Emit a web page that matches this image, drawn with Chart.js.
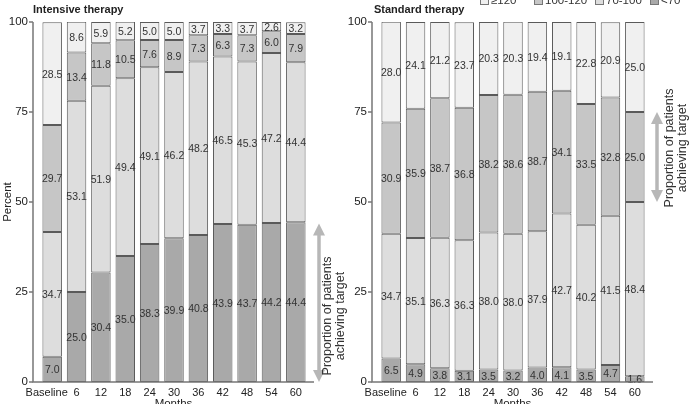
<!DOCTYPE html>
<html>
<head>
<meta charset="utf-8">
<script src="https://cdn.jsdelivr.net/npm/chart.js@4/dist/chart.umd.min.js"></script>
<style>
  body { margin: 0; background: #fff; }
  #wrap { position: relative; width: 693px; height: 404px; overflow: hidden; }
  .panel { position: absolute; top: 0; height: 404px; }
</style>
</head>
<body>
<div id="wrap">
  <div class="panel" style="left:0;width:352px"><canvas id="intensiveChart"></canvas></div>
  <div class="panel" style="left:339px;width:354px"><canvas id="standardChart"></canvas></div>
</div>
<script>
// categories and bands
const months = ['Baseline', '6', '12', '18', '24', '30', '36', '42', '48', '54', '60'];
const bands = ['<70', '70-100', '100-120', '≥120'];   // bottom to top
const legendOrder = ['≥120', '100-120', '70-100', '<70'];
const yTicks = [0, 25, 50, 75, 100];

// Intensive therapy (percent of patients)
const intensiveBelow70 = [7.0, 25.0, 30.4, 35.0, 38.3, 39.9, 40.8, 43.9, 43.7, 44.2, 44.4];
const intensive70to100 = [34.7, 53.1, 51.9, 49.4, 49.1, 46.2, 48.2, 46.5, 45.3, 47.2, 44.4];
const intensive100to120 = [29.7, 13.4, 11.8, 10.5, 7.6, 8.9, 7.3, 6.3, 7.3, 6.0, 7.9];
const intensiveOver120 = [28.5, 8.6, 5.9, 5.2, 5.0, 5.0, 3.7, 3.3, 3.7, 2.6, 3.2];

// Standard therapy
const standardBelow70 = [6.5, 4.9, 3.8, 3.1, 3.5, 3.2, 4.0, 4.1, 3.5, 4.7, 1.6];
const standard70to100 = [34.7, 35.1, 36.3, 36.3, 38.0, 38.0, 37.9, 42.7, 40.2, 41.5, 48.4];
const standard100to120 = [30.9, 35.9, 38.7, 36.8, 38.2, 38.6, 38.7, 34.1, 33.5, 32.8, 25.0];
const standardOver120 = [28.0, 24.1, 21.2, 23.7, 20.3, 20.3, 19.4, 19.1, 22.8, 20.9, 25.0];

const bandColors = {
    '<70': '#a9a9a9',
    '70-100': '#dddddd',
    '100-120': '#c6c6c6',
    '≥120': '#f0f0f0'
};

const FONT = "'Liberation Sans', Arial, Helvetica, sans-serif";
Chart.defaults.font.family = FONT;
Chart.defaults.font.size = 11;
Chart.defaults.color = '#2a2a2a';

// draws titles, axis lines, value labels, arrows, legend
const decoPlugin = {
    id: 'deco',
    afterDatasetsDraw(chart) {
        const ctx = chart.ctx;
        // value labels in the middle of every segment
        ctx.save();
        ctx.font = '10.5px ' + FONT;
        ctx.fillStyle = '#333';
        ctx.textAlign = 'center';
        ctx.textBaseline = 'middle';
        chart.data.datasets.forEach((ds, i) => {
            chart.getDatasetMeta(i).data.forEach((bar, j) => {
                const p = bar.getProps(['x', 'y', 'base'], true);
                ctx.fillText(ds.data[j].toFixed(1), p.x, (p.y + p.base) / 2 + 1);
            });
        });
        ctx.restore();
    },
    afterDraw(chart) {
        const ctx = chart.ctx;
        const deco = chart.options.plugins.deco;
        const area = chart.chartArea;
        const yScale = chart.scales.y;
        const axisX = area.left - 7;

        ctx.save();
        // axes
        ctx.strokeStyle = '#777';
        ctx.lineWidth = 1.5;
        ctx.beginPath();
        ctx.moveTo(axisX, area.top);
        ctx.lineTo(axisX, area.bottom);
        ctx.lineTo(area.right + 6, area.bottom);
        ctx.stroke();
        yTicks.forEach(v => {
            const y = yScale.getPixelForValue(v);
            ctx.beginPath();
            ctx.moveTo(axisX - 4, y);
            ctx.lineTo(axisX, y);
            ctx.stroke();
        });

        // panel title
        ctx.fillStyle = '#222';
        ctx.font = 'bold 11px ' + FONT;
        ctx.textAlign = 'left';
        ctx.textBaseline = 'middle';
        ctx.fillText(deco.title, deco.titleX, 10);

        // axis titles
        ctx.font = '11.5px ' + FONT;
        ctx.textAlign = 'center';
        ctx.textBaseline = 'top';
        ctx.fillText('Months', (axisX + area.right + 6) / 2, 398);
        if (deco.yTitle) {
            ctx.save();
            ctx.translate(8, yScale.getPixelForValue(50));
            ctx.rotate(-Math.PI / 2);
            ctx.textBaseline = 'middle';
            ctx.fillText(deco.yTitle, 0, 0);
            ctx.restore();
        }

        // double arrow with text
        const a = deco.arrow;
        const yTop = yScale.getPixelForValue(a.high);
        const yBot = yScale.getPixelForValue(a.low);
        ctx.strokeStyle = '#b7b7b7';
        ctx.fillStyle = '#b7b7b7';
        ctx.lineWidth = 3.5;
        ctx.beginPath();
        ctx.moveTo(a.x, yTop + 10);
        ctx.lineTo(a.x, yBot - 10);
        ctx.stroke();
        ctx.beginPath();
        ctx.moveTo(a.x, yTop);
        ctx.lineTo(a.x - 6, yTop + 12);
        ctx.lineTo(a.x + 6, yTop + 12);
        ctx.closePath();
        ctx.fill();
        ctx.beginPath();
        ctx.moveTo(a.x, yBot);
        ctx.lineTo(a.x - 6, yBot - 12);
        ctx.lineTo(a.x + 6, yBot - 12);
        ctx.closePath();
        ctx.fill();

        ctx.fillStyle = '#333';
        ctx.font = '12.5px ' + FONT;
        ctx.textBaseline = 'middle';
        ctx.textAlign = 'center';
        ctx.save();
        ctx.translate(a.textX, a.textY);
        ctx.rotate(-Math.PI / 2);
        ctx.fillText('Proportion of patients', 0, 0);
        ctx.fillText('achieving target', 0, 12.5);
        ctx.restore();

        // legend (top right, only on one panel)
        if (deco.legendX) {
            ctx.font = '11.5px ' + FONT;
            ctx.textAlign = 'left';
            ctx.textBaseline = 'middle';
            legendOrder.forEach((name, k) => {
                const x = deco.legendX[k];
                ctx.fillStyle = bandColors[name];
                ctx.fillRect(x, -4, 9, 9);
                ctx.strokeStyle = '#777';
                ctx.lineWidth = 1;
                ctx.strokeRect(x + 0.5, -3.5, 8, 8);
                ctx.fillStyle = '#333';
                ctx.fillText(name, x + 11, 1);
            });
        }
        ctx.restore();
    }
};

function makeChart(canvasId, series, padRight, deco) {
    const datasets = bands.map((name, i) => ({
        label: name,
        data: series[i],
        backgroundColor: bandColors[name],
        borderColor: '#5a5a5a',
        borderWidth: 1,
        borderSkipped: false,
        categoryPercentage: 1,
        barPercentage: 0.8
    }));
    return new Chart(document.getElementById(canvasId), {
        type: 'bar',
        data: { labels: months, datasets: datasets },
        plugins: [decoPlugin],
        options: {
            responsive: true,
            maintainAspectRatio: false,
            animation: false,
            layout: { padding: { top: 22, right: padRight, bottom: 0, left: 0 } },
            plugins: {
                legend: { display: false },
                tooltip: { enabled: false },
                deco: deco
            },
            scales: {
                x: {
                    stacked: true,
                    grid: { display: false, drawTicks: false },
                    border: { display: false },
                    ticks: {
                        padding: 4, color: '#222', font: { size: 11 }, maxRotation: 0, autoSkip: false,
                        // nudge the long first label left so it clears "6"
                        callback: (v, i) => i === 0 ? months[i] + '\u2002\u2002' : months[i]
                    },
                    afterFit(scale) { scale.height = 22; }
                },
                y: {
                    stacked: true,
                    min: 0,
                    max: 100,
                    grid: { display: false, drawTicks: false },
                    border: { display: false },
                    ticks: { padding: 12, color: '#222', font: { size: 11.5 } },
                    afterBuildTicks(scale) { scale.ticks = yTicks.map(v => ({ value: v })); },
                    afterFit(scale) { scale.width = 40; }
                }
            }
        }
    });
}

makeChart('intensiveChart',
    [intensiveBelow70, intensive70to100, intensive100to120, intensiveOver120], 44,
    {
        title: 'Intensive therapy', titleX: 33, yTitle: 'Percent',
        arrow: { low: 0, high: 44, x: 319, textX: 328, textY: 316 }
    });

makeChart('standardChart',
    [standardBelow70, standard70to100, standard100to120, standardOver120], 46,
    {
        title: 'Standard therapy', titleX: 35,
        arrow: { low: 50, high: 75, x: 318, textX: 331, textY: 148 },
        legendX: [141, 195, 256, 311]
    });
</script>
</body>
</html>
